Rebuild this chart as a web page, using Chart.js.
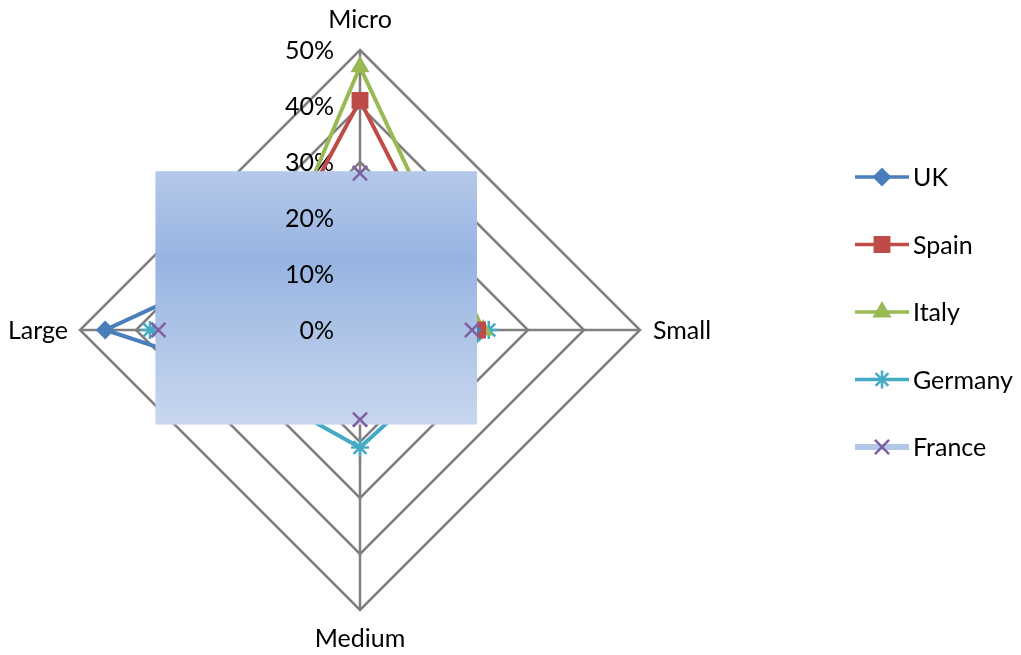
<!DOCTYPE html>
<html>
<head>
<meta charset="utf-8">
<script src="https://cdn.jsdelivr.net/npm/chart.js@4"></script>
<style>
  body { margin: 0; background: #fff; }
  #wrap { width: 1021px; height: 655px; position: relative; }
</style>
</head>
<body>
<div id="wrap"><canvas id="myChart"></canvas></div>
<script>
// categories (clockwise from top)
const sizes = ["Micro", "Small", "Medium", "Large"];
// share of firms, percent
const uk = [21, 20, 15, 45.5];
const spain = [41, 21, 13, 22];
const italy = [47, 22, 10, 20];
const germany = [18, 23, 21, 37.5];
const france = [28, 20, 16, 36];
const countries = ["UK", "Spain", "Italy", "Germany", "France"];
const tickMax = 50, tickStep = 10;

const FONT = "Lato, 'Liberation Sans', sans-serif";
const GRID = "#7f7f7f";

function pctLabel(v) { return v + "%"; }

// draws the tick labels left of the vertical axis; onlyBelow = y limit
function drawTicks(chart, onlyBelow) {
  const s = chart.scales.r, ctx = chart.ctx;
  ctx.save();
  ctx.font = "25px " + FONT;
  ctx.fillStyle = "#000";
  ctx.textAlign = "right";
  ctx.textBaseline = "middle";
  s.ticks.forEach(t => {
    const y = s.yCenter - s.getDistanceFromCenterForValue(t.value);
    if (onlyBelow != null && y < onlyBelow) return;
    ctx.fillText(pctLabel(t.value), s.xCenter - 26, y + 1);
  });
  ctx.restore();
}

const overlay = {
  id: "overlay",
  beforeDatasetsDraw(chart) {
    drawTicks(chart, null);
  },
  afterDatasetsDraw(chart) {
    const ctx = chart.ctx;
    const meta = chart.getDatasetMeta(4);
    const xs = meta.data.map(p => p.x), ys = meta.data.map(p => p.y);
    const l = Math.min(...xs) - 3, r = Math.max(...xs) + 5;
    const t = Math.min(...ys) - 2, b = Math.max(...ys) + 5;
    const g = ctx.createLinearGradient(0, t, 0, b);
    g.addColorStop(0, "#b5c8ea");
    g.addColorStop(0.35, "#97b4e1");
    g.addColorStop(1, "#c9d7ef");
    ctx.save();
    ctx.fillStyle = g;
    ctx.fillRect(l, t, r - l, b - t);
    ctx.restore();
    drawTicks(chart, t + 6);
    meta.data.forEach(p => p.draw(ctx, chart.chartArea));
  },
  afterDraw(chart) {
    const s = chart.scales.r, ctx = chart.ctx;
    ctx.save();
    ctx.font = "25px " + FONT;
    ctx.fillStyle = "#000";
    ctx.textBaseline = "middle";
    sizes.forEach((lab, i) => {
      const p0 = s.getPointPosition(i, s.drawingArea);
      const dx = p0.x - s.xCenter, dy = p0.y - s.yCenter;
      if (Math.abs(dx) < 1) {
        ctx.textAlign = "center";
        ctx.fillText(lab, p0.x, dy < 0 ? p0.y - 30 : p0.y + 29);
      } else {
        ctx.textAlign = dx < 0 ? "right" : "left";
        ctx.fillText(lab, dx < 0 ? p0.x - 12 : p0.x + 13, p0.y + 1);
      }
    });

    // legend
    const lx = 855, ly = 177, gap = 67.5;
    chart.data.datasets.forEach((ds, i) => {
      const y = ly + i * gap;
      ctx.strokeStyle = ds.legendLine || ds.borderColor;
      ctx.lineWidth = ds.legendWidth || 3.5;
      ctx.beginPath();
      ctx.moveTo(lx, y);
      ctx.lineTo(lx + 54, y);
      ctx.stroke();
      ctx.fillStyle = ds.pointBackgroundColor;
      ctx.strokeStyle = ds.pointBorderColor;
      ctx.lineWidth = ds.pointBorderWidth;
      Chart.helpers.drawPoint(ctx, {
        pointStyle: ds.pointStyle, radius: ds.pointRadius, rotation: 0,
        borderWidth: ds.pointBorderWidth
      }, lx + 27, y);
      ctx.fillStyle = "#000";
      ctx.textAlign = "left";
      ctx.fillText(ds.label, lx + 58, y + 1);
    });
    ctx.restore();
  }
};

function series(label, data, color, style, radius, extra) {
  return Object.assign({
    label: label,
    data: data,
    borderColor: color,
    backgroundColor: color,
    borderWidth: 4,
    fill: false,
    pointStyle: style,
    pointRadius: radius,
    pointHoverRadius: radius,
    pointBackgroundColor: color,
    pointBorderColor: color,
    pointBorderWidth: 2
  }, extra || {});
}

const ctx = document.getElementById("myChart");
new Chart(ctx, {
  type: "radar",
  data: {
    labels: sizes,
    datasets: [
      series(countries[0], uk, "#4a7ebb", "rectRot", 8),
      series(countries[1], spain, "#be4b48", "rect", 10.5),
      series(countries[2], italy, "#98b954", "triangle", 9),
      series(countries[3], germany, "#46aac5", "star", 9, { pointBorderWidth: 2.5 }),
      series(countries[4], france, "#b3c7e8", "crossRot", 10, {
        pointBackgroundColor: "#7d60a0", pointBorderColor: "#7d60a0",
        pointBorderWidth: 2.5, legendLine: "#b3c7e8", legendWidth: 6
      })
    ]
  },
  options: {
    responsive: true,
    maintainAspectRatio: false,
    animation: false,
    layout: { padding: { left: 80, top: 50, right: 381, bottom: 45 } },
    plugins: {
      legend: { display: false },
      tooltip: { enabled: false }
    },
    scales: {
      r: {
        min: 0,
        max: tickMax,
        ticks: { stepSize: tickStep, display: false },
        grid: { color: GRID, lineWidth: 2.5 },
        angleLines: { color: GRID, lineWidth: 2.5 },
        pointLabels: { display: false }
      }
    }
  },
  plugins: [overlay]
});
</script>
</body>
</html>
